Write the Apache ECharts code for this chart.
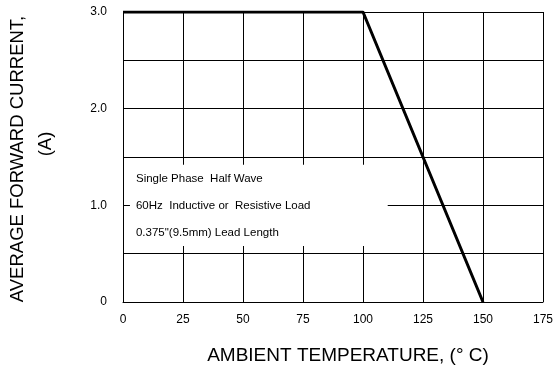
<!DOCTYPE html>
<html>
<head>
<meta charset="utf-8">
<script src="https://cdn.jsdelivr.net/npm/echarts@6/dist/echarts.min.js"></script>
<style>html,body{margin:0;padding:0;background:#fff}#c{width:556px;height:372px}</style>
</head>
<body>
<div id="c"></div>
<script>
// Data
var curveTemps = [0, 100, 150];
var curveCurrents = [3.0, 3.0, 0];
var xTicks = [0, 25, 50, 75, 100, 125, 150, 175];
var yTickLabels = {0: '0', 1: '1.0', 2: '2.0', 3: '3.0'};
var noteLines = ['Single Phase  Half Wave', '60Hz  Inductive or  Resistive Load', '0.375"(9.5mm) Lead Length'];
var noteBoxX = [2.9, 110.3];
var noteBoxY = [0.58, 1.42];
var xTitle = 'AMBIENT TEMPERATURE, (\u00B0 C)';
var yTitle1 = 'AVERAGE FORWARD CURRENT,';
var yTitle2 = '(A)';

var FONT = '"Liberation Sans", Arial, sans-serif';
var chart = echarts.init(document.getElementById('c'), null, {renderer: 'canvas'});
var lineData = curveTemps.map(function (t, i) { return [t, curveCurrents[i]]; });

chart.setOption({
  animation: false,
  backgroundColor: '#fff',
  grid: {left: 123, right: 11, top: 12, bottom: 70, containLabel: false},
  xAxis: {
    type: 'value', min: xTicks[0], max: xTicks[xTicks.length - 1], interval: 25,
    axisLine: {show: true, lineStyle: {color: '#000', width: 1}},
    axisTick: {show: false},
    splitLine: {show: true, lineStyle: {color: '#000', width: 1}},
    axisLabel: {color: '#000', fontFamily: FONT, fontSize: 12, margin: 12}
  },
  yAxis: {
    type: 'value', min: 0, max: 3, interval: 0.5,
    axisLine: {show: true, lineStyle: {color: '#000', width: 1}},
    axisTick: {show: false},
    splitLine: {show: true, lineStyle: {color: '#000', width: 1}},
    axisLabel: {
      color: '#000', fontFamily: FONT, fontSize: 12, margin: 16,
      formatter: function (v) { return yTickLabels[v] !== undefined ? yTickLabels[v] : ''; }
    }
  },
  series: [{
    type: 'line',
    data: lineData,
    showSymbol: false,
    symbol: 'none',
    lineStyle: {color: '#000', width: 3},
    z: 5,
    markArea: {
      silent: true,
      itemStyle: {color: '#fff', opacity: 1},
      label: {
        show: true, position: 'insideLeft', distance: 6,
        formatter: noteLines.join('\n'),
        color: '#000', fontFamily: FONT, fontSize: 11.5, lineHeight: 27
      },
      data: [[{coord: [noteBoxX[0], noteBoxY[1]]}, {coord: [noteBoxX[1], noteBoxY[0]]}]]
    }
  }],
  graphic: [
    {type: 'text', x: 348, y: 356, style: {text: xTitle, fill: '#000', font: '19px ' + FONT, textAlign: 'center', textVerticalAlign: 'middle'}},
    {type: 'text', x: 17.5, y: 159, rotation: Math.PI / 2, style: {text: yTitle1, fill: '#000', font: '18.5px ' + FONT, textAlign: 'center', textVerticalAlign: 'middle'}},
    {type: 'text', x: 46, y: 144, rotation: Math.PI / 2, style: {text: yTitle2, fill: '#000', font: '18.5px ' + FONT, textAlign: 'center', textVerticalAlign: 'middle'}}
  ]
});
</script>
</body>
</html>
